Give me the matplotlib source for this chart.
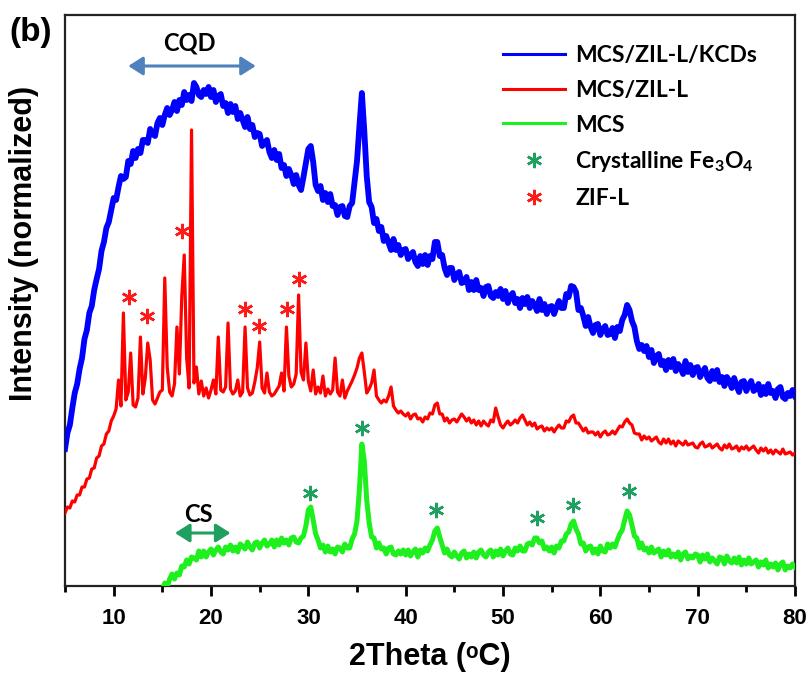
import numpy as np
import matplotlib
matplotlib.use("Agg")
import matplotlib.pyplot as plt
from matplotlib.lines import Line2D
from matplotlib.patches import FancyArrowPatch

# --- XRD data: intensity (a.u.) sampled every 0.25 deg from 5 to 80 deg 2theta ---
two_theta = np.arange(5.0, 80.0 + 1e-9, 0.25)

# MCS/ZIL-L/KCDs (rows of 20 samples = 5 deg each)
kcds = [
    137, 153, 161, 178, 193, 202, 217, 228, 247, 256, 273, 280, 296, 307, 317, 335, 344, 358, 364, 376,
    388, 386, 399, 410, 407, 409, 425, 422, 435, 428, 437, 433, 446, 446, 443, 457, 452, 450, 463, 468,
    461, 471, 478, 471, 476, 484, 475, 486, 481, 494, 486, 491, 485, 503, 499, 491, 489, 496, 492, 499,
    489, 496, 484, 490, 492, 480, 483, 473, 482, 474, 480, 467, 473, 466, 459, 469, 457, 461, 449, 453,
    452, 440, 443, 446, 434, 428, 436, 426, 432, 418, 421, 410, 417, 411, 402, 411, 401, 396, 409, 423,
    437, 440, 424, 401, 395, 400, 386, 393, 384, 392, 380, 381, 371, 379, 380, 370, 369, 380, 383, 404,
    425, 460, 493, 455, 410, 384, 379, 363, 367, 355, 359, 345, 350, 343, 336, 347, 336, 341, 331, 336,
    337, 327, 331, 334, 324, 320, 330, 322, 331, 321, 330, 327, 344, 344, 330, 331, 318, 311, 318, 318,
    306, 312, 314, 303, 304, 309, 296, 304, 296, 306, 296, 298, 290, 299, 300, 290, 288, 294, 290, 297,
    287, 295, 283, 290, 293, 283, 287, 278, 288, 282, 289, 278, 285, 281, 275, 287, 276, 282, 272, 279,
    280, 272, 279, 285, 278, 278, 292, 289, 300, 299, 294, 276, 278, 270, 260, 269, 259, 253, 261, 262,
    251, 257, 260, 251, 252, 258, 248, 259, 255, 266, 271, 281, 276, 265, 259, 245, 237, 241, 235, 240,
    229, 236, 223, 230, 232, 221, 225, 216, 226, 219, 227, 215, 222, 218, 212, 225, 214, 221, 211, 218,
    219, 209, 214, 218, 208, 205, 215, 207, 216, 204, 209, 200, 209, 205, 198, 208, 200, 194, 204, 205,
    195, 201, 205, 195, 197, 202, 191, 199, 192, 202, 193, 195, 188, 197, 199, 189, 187, 193, 190, 196,
    190,
]

# MCS/ZIL-L
zil = [
    73, 79, 78, 85, 84, 91, 91, 99, 99, 107, 108, 117, 118, 128, 130, 140, 142, 152, 155, 165,
    170, 177, 206, 180, 273, 186, 194, 233, 181, 179, 188, 249, 192, 208, 243, 226, 186, 182, 188, 194,
    196, 308, 219, 194, 190, 202, 259, 212, 290, 331, 228, 198, 456, 203, 219, 192, 205, 190, 198, 188,
    196, 206, 192, 249, 196, 194, 199, 263, 197, 192, 195, 206, 190, 194, 259, 198, 191, 193, 204, 218,
    244, 198, 193, 213, 194, 190, 192, 196, 200, 213, 195, 259, 210, 199, 202, 212, 291, 214, 206, 243,
    205, 195, 216, 192, 199, 193, 210, 190, 197, 192, 196, 228, 194, 190, 206, 188, 195, 200, 205, 211,
    218, 228, 233, 214, 193, 197, 203, 216, 190, 186, 183, 186, 184, 190, 199, 180, 176, 173, 175, 172,
    170, 173, 167, 171, 172, 167, 168, 164, 169, 167, 173, 172, 181, 183, 172, 172, 165, 168, 163, 166,
    167, 164, 168, 172, 169, 165, 168, 163, 166, 161, 165, 160, 165, 162, 160, 166, 164, 178, 169, 161,
    158, 162, 165, 161, 163, 166, 163, 168, 171, 166, 161, 164, 160, 163, 157, 159, 160, 155, 158, 156,
    158, 154, 158, 161, 158, 158, 165, 164, 169, 171, 163, 163, 159, 155, 158, 153, 154, 154, 151, 154,
    149, 153, 155, 151, 152, 155, 152, 156, 160, 159, 164, 167, 163, 161, 153, 152, 152, 146, 150, 147,
    149, 145, 147, 149, 144, 142, 147, 143, 147, 142, 145, 140, 145, 143, 141, 145, 141, 142, 143, 139,
    138, 142, 144, 139, 140, 142, 138, 140, 142, 138, 136, 141, 138, 142, 137, 138, 140, 135, 139, 137,
    140, 136, 138, 140, 136, 133, 138, 135, 138, 133, 136, 132, 136, 134, 132, 137, 132, 133, 134, 131,
    133,
]

nan = np.nan
# MCS (trace rises out of the frame at ~15 deg)
mcs = [
    nan, nan, nan, nan, nan, nan, nan, nan, nan, nan, nan, nan, nan, nan, nan, nan, nan, nan, nan, nan,
    nan, nan, nan, nan, nan, nan, nan, nan, nan, nan, nan, nan, nan, nan, nan, nan, nan, nan, nan, -6,
    -4, 3, -1, 7, 12, 7, 13, 11, 20, 19, 26, 22, 29, 28, 26, 35, 29, 35, 29, 34,
    37, 31, 36, 39, 34, 32, 39, 36, 41, 35, 39, 34, 42, 40, 37, 44, 39, 36, 43, 44,
    38, 43, 46, 40, 42, 46, 39, 46, 41, 48, 43, 46, 41, 48, 49, 44, 43, 48, 50, 60,
    76, 79, 66, 52, 46, 38, 41, 34, 40, 34, 37, 32, 39, 38, 34, 42, 38, 38, 47, 52,
    65, 97, 142, 125, 86, 63, 49, 48, 38, 43, 37, 38, 32, 38, 39, 32, 31, 35, 32, 36,
    31, 36, 30, 34, 37, 29, 36, 33, 38, 35, 41, 46, 55, 58, 49, 41, 33, 37, 31, 29,
    34, 30, 27, 33, 35, 28, 32, 29, 34, 28, 34, 36, 31, 29, 34, 36, 29, 35, 31, 37,
    30, 35, 38, 32, 31, 38, 35, 40, 35, 35, 42, 43, 41, 48, 48, 43, 45, 37, 39, 35,
    39, 33, 40, 38, 45, 45, 52, 54, 62, 65, 57, 52, 42, 43, 35, 39, 40, 33, 37, 32,
    40, 35, 34, 42, 38, 42, 39, 46, 52, 56, 66, 75, 71, 61, 50, 48, 38, 43, 36, 38,
    33, 39, 33, 35, 37, 29, 35, 31, 36, 29, 32, 29, 34, 26, 32, 34, 27, 30, 28, 32,
    31, 24, 31, 27, 32, 24, 28, 25, 22, 29, 28, 22, 30, 25, 23, 28, 23, 29, 21, 26,
    22, 28, 22, 24, 26, 19, 24, 21, 26, 18, 22, 19, 23, 16, 22, 24, 16, 20, 18, 22,
    19,
]

# Phase markers (asterisks above assigned reflections)
zif_star_x = [11.6, 13.45, 17.05, 23.45, 24.9, 27.8, 29.0]
zif_star_y = [289, 270, 355, 277, 260, 277, 307]
fe3o4_star_x = [30.2, 35.5, 43.1, 53.5, 57.2, 62.9]
fe3o4_star_y = [93, 158, 76, 68, 81, 95]

series_labels = ["MCS/ZIL-L/KCDs", "MCS/ZIL-L", "MCS"]
marker_labels = ["Crystalline Fe$_3$O$_4$", "ZIF-L"]
x_major = [10, 20, 30, 40, 50, 60, 70, 80]
x_minor = [5, 15, 25, 35, 45, 55, 65, 75]

BLUE, RED, GREEN = "#0000ff", "#ff0000", "#1ef01e"
STAR_GREEN, STAR_RED = "#20a060", "#ff1a1a"
CQD_COLOR, CS_COLOR = "#4f81bd", "#20a060"
ASTERISK = (6, 2, 0)

plt.rcParams["font.family"] = ["Liberation Sans", "DejaVu Sans"]
plt.rcParams["font.weight"] = "bold"
plt.rcParams["mathtext.fontset"] = "custom"
plt.rcParams["mathtext.rm"] = "Lato:bold"
plt.rcParams["mathtext.it"] = "Lato:bold:italic"
plt.rcParams["mathtext.bf"] = "Lato:bold"

W, H = 809, 676
fig = plt.figure(figsize=(W / 100, H / 100), dpi=100)
ax = fig.add_axes([65 / W, 90 / H, 730 / W, 571 / H])

ax.plot(two_theta, kcds, color=BLUE, lw=4.2, zorder=3)
ax.plot(two_theta, zil, color=RED, lw=2.3, zorder=3)
ax.plot(two_theta, mcs, color=GREEN, lw=3.6, zorder=3)

ax.plot(zif_star_x, zif_star_y, ls="none", marker=ASTERISK, ms=11, mew=1.8,
        color=STAR_RED, zorder=4)
ax.plot(fe3o4_star_x, fe3o4_star_y, ls="none", marker=ASTERISK, ms=11, mew=1.8,
        color=STAR_GREEN, zorder=4)

# Amorphous-region annotations
ax.add_patch(FancyArrowPatch((11.5, 520), (24.6, 520), arrowstyle="<|-|>,head_length=0.55,head_width=0.35",
                             mutation_scale=16, lw=2.2, color=CQD_COLOR, shrinkA=0, shrinkB=0))
ax.text(17.8, 543, "CQD", ha="center", va="center", fontsize=17, family="Lato", weight="bold")
ax.add_patch(FancyArrowPatch((16.3, 53), (22.0, 53), arrowstyle="<|-|>,head_length=0.55,head_width=0.35",
                             mutation_scale=16, lw=2.2, color=CS_COLOR, shrinkA=0, shrinkB=0))
ax.text(18.7, 72, "CS", ha="center", va="center", fontsize=17, family="Lato", weight="bold")

ax.set_xlim(5, 80)
ax.set_ylim(0, 571)
ax.set_yticks([])
ax.set_xticks(x_major)
ax.set_xticks(x_minor, minor=True)
ax.tick_params(axis="x", which="major", direction="out", length=7, width=2, labelsize=16, pad=9)
ax.tick_params(axis="x", which="minor", direction="out", length=4, width=2)
for sp in ax.spines.values():
    sp.set_linewidth(1.6)
    sp.set_color("#222222")

ax.set_xlabel("2Theta (\u1d52C)", fontsize=22, fontweight="bold", labelpad=9)
fig.text(24 / W, 1 - 243 / H, "Intensity (normalized)", rotation=90, ha="center", va="center",
         fontsize=22, fontweight="bold")
fig.text(9 / W, 1 - 32 / H, "(b)", ha="left", va="center", fontsize=24, fontweight="bold")

handles = [Line2D([], [], color=c, lw=2.2) for c in (BLUE, RED, GREEN)]
handles += [Line2D([], [], ls="none", marker=ASTERISK, ms=11, mew=1.8, color=c)
            for c in (STAR_GREEN, STAR_RED)]
ax.legend(handles, series_labels + marker_labels, loc="upper left",
          bbox_to_anchor=(503 / W, 1 - 45 / H), bbox_transform=fig.transFigure,
          frameon=False, prop={"family": "Lato", "weight": "bold", "size": 16.5},
          handlelength=2.7, handletextpad=0.45, labelspacing=0.6,
          borderpad=0, borderaxespad=0)

fig.savefig("out.png", dpi=100)
